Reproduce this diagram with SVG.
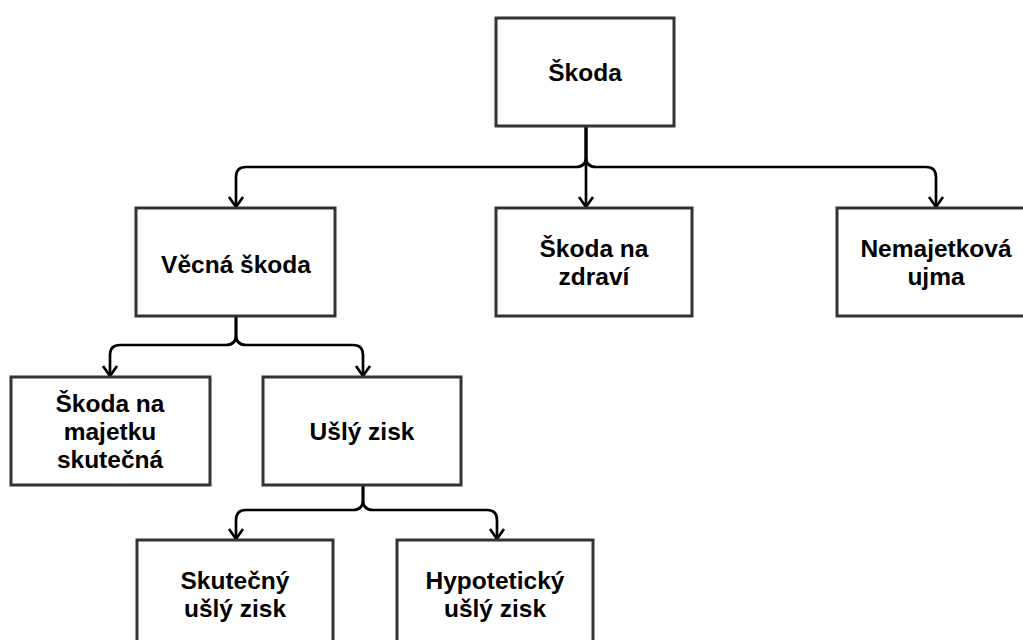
<svg xmlns="http://www.w3.org/2000/svg" width="1023" height="640" viewBox="0 0 1023 640">
<style>
.box{fill:#fff;stroke:#333;stroke-width:3}
.lbl{font-family:"Liberation Sans",Arial,sans-serif;font-weight:bold;font-size:24.5px;fill:#000;text-anchor:middle}
.edge{fill:none;stroke:#000;stroke-width:2.7;marker-end:url(#arr)}
</style>
<defs>
<marker id="arr" markerUnits="userSpaceOnUse" markerWidth="20" markerHeight="20" refX="0" refY="0" orient="auto" viewBox="-12 -10 14 20" overflow="visible">
<path d="M-10,-7 L0,0 L-10,7" fill="none" stroke="#000" stroke-width="2.7"/>
</marker>
</defs>
<rect width="1023" height="640" fill="#fff"/>
<g id="connectors">
<path class="edge" d="M586,127 V157 Q586,167 576,167 H246 Q236,167 236,177 V207"/>
<path class="edge" d="M586,127 V207"/>
<path class="edge" d="M586,127 V157 Q586,167 596,167 H926 Q936,167 936,177 V207"/>
<path class="edge" d="M236,316 V335 Q236,345 226,345 H120 Q110,345 110,355 V376"/>
<path class="edge" d="M236,316 V335 Q236,345 246,345 H353 Q363,345 363,355 V376"/>
<path class="edge" d="M363,485 V500 Q363,510 353,510 H246 Q236,510 236,520 V539"/>
<path class="edge" d="M363,485 V500 Q363,510 373,510 H487 Q497,510 497,520 V539"/>
</g>
<g id="skoda">
<rect class="box" x="496" y="18" width="178" height="108"/>
<text class="lbl" x="585" y="81">Škoda</text>
</g>
<g id="vecna">
<rect class="box" x="136" y="208" width="199" height="108"/>
<text class="lbl" x="236" y="273">Věcná škoda</text>
</g>
<g id="zdravi">
<rect class="box" x="496" y="208" width="196" height="108"/>
<text class="lbl" x="594" y="257">Škoda na</text>
<text class="lbl" x="594" y="285">zdraví</text>
</g>
<g id="nemajetkova">
<rect class="box" x="837" y="208" width="198" height="108"/>
<text class="lbl" x="936" y="257">Nemajetková</text>
<text class="lbl" x="936" y="285">ujma</text>
</g>
<g id="majetku">
<rect class="box" x="11" y="377" width="199" height="108"/>
<text class="lbl" x="110" y="412">Škoda na</text>
<text class="lbl" x="110" y="440">majetku</text>
<text class="lbl" x="110" y="468">skutečná</text>
</g>
<g id="usly">
<rect class="box" x="263" y="377" width="198" height="108"/>
<text class="lbl" x="362" y="440">Ušlý zisk</text>
</g>
<g id="skutecny">
<rect class="box" x="137" y="540" width="196" height="108"/>
<text class="lbl" x="235" y="589">Skutečný</text>
<text class="lbl" x="235" y="617">ušlý zisk</text>
</g>
<g id="hypoteticky">
<rect class="box" x="397" y="540" width="196" height="108"/>
<text class="lbl" x="495" y="589">Hypotetický</text>
<text class="lbl" x="495" y="617">ušlý zisk</text>
</g>
</svg>
